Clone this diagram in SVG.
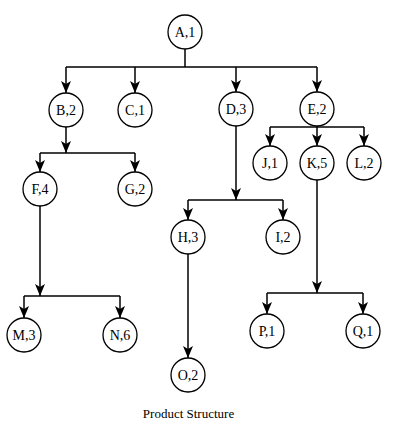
<svg xmlns="http://www.w3.org/2000/svg" width="400" height="429" viewBox="0 0 400 429">
<style>
.n circle{fill:#fff;stroke:#000;stroke-width:1.3}
.n text{font-family:"Liberation Serif","Times New Roman",serif;font-size:14px;fill:#000;text-anchor:middle}
.cap{font-family:"Liberation Serif","Times New Roman",serif;font-size:13px;fill:#000;text-anchor:middle}
#edges path{fill:none;stroke:#000;stroke-width:1.5}
</style>
<defs>
<marker id="arr" viewBox="0 0 12 10" refX="12" refY="5" markerWidth="12" markerHeight="10" orient="auto" markerUnits="userSpaceOnUse">
<path d="M0,0 L12,5 L0,10 L3,5 z" fill="#000"/>
</marker>
</defs>
<rect width="400" height="429" fill="#fff"/>
<g id="edges">
<path d="M185,49 V67 M66,67 H317"/>
<path d="M66,67 V93" marker-end="url(#arr)"/>
<path d="M135,67 V93" marker-end="url(#arr)"/>
<path d="M236,67 V92" marker-end="url(#arr)"/>
<path d="M317,67 V92" marker-end="url(#arr)"/>
<path d="M66,127 V153" marker-end="url(#arr)"/>
<path d="M40,153 H135"/>
<path d="M40,153 V172" marker-end="url(#arr)"/>
<path d="M135,153 V172" marker-end="url(#arr)"/>
<path d="M270,127 H364"/>
<path d="M270,127 V146" marker-end="url(#arr)"/>
<path d="M317,126 V146" marker-end="url(#arr)"/>
<path d="M364,127 V146" marker-end="url(#arr)"/>
<path d="M236,126 V200" marker-end="url(#arr)"/>
<path d="M188,200 H283"/>
<path d="M188,200 V220" marker-end="url(#arr)"/>
<path d="M283,200 V220" marker-end="url(#arr)"/>
<path d="M40,206 V296" marker-end="url(#arr)"/>
<path d="M24,296 H120"/>
<path d="M24,296 V318" marker-end="url(#arr)"/>
<path d="M120,296 V318" marker-end="url(#arr)"/>
<path d="M317,180 V293" marker-end="url(#arr)"/>
<path d="M267,293 H363"/>
<path d="M267,293 V314" marker-end="url(#arr)"/>
<path d="M363,293 V314" marker-end="url(#arr)"/>
<path d="M188,254 V358" marker-end="url(#arr)"/>
</g>
<g id="A" class="n"><circle cx="185" cy="32" r="17"/><text x="185" y="37">A,1</text></g>
<g id="B" class="n"><circle cx="66" cy="110" r="17"/><text x="66" y="115">B,2</text></g>
<g id="C" class="n"><circle cx="135" cy="110" r="17"/><text x="135" y="115">C,1</text></g>
<g id="D" class="n"><circle cx="236" cy="109" r="17"/><text x="236" y="114">D,3</text></g>
<g id="E" class="n"><circle cx="317" cy="109" r="17"/><text x="317" y="114">E,2</text></g>
<g id="F" class="n"><circle cx="40" cy="189" r="17"/><text x="40" y="194">F,4</text></g>
<g id="G" class="n"><circle cx="135" cy="189" r="17"/><text x="135" y="194">G,2</text></g>
<g id="J" class="n"><circle cx="270" cy="163" r="17"/><text x="270" y="168">J,1</text></g>
<g id="K" class="n"><circle cx="317" cy="163" r="17"/><text x="317" y="168">K,5</text></g>
<g id="L" class="n"><circle cx="364" cy="163" r="17"/><text x="364" y="168">L,2</text></g>
<g id="H" class="n"><circle cx="188" cy="237" r="17"/><text x="188" y="242">H,3</text></g>
<g id="I" class="n"><circle cx="283" cy="237" r="17"/><text x="283" y="242">I,2</text></g>
<g id="M" class="n"><circle cx="24" cy="335" r="17"/><text x="24" y="340">M,3</text></g>
<g id="N" class="n"><circle cx="120" cy="335" r="17"/><text x="120" y="340">N,6</text></g>
<g id="O" class="n"><circle cx="188" cy="375" r="17"/><text x="188" y="380">O,2</text></g>
<g id="P" class="n"><circle cx="267" cy="331" r="17"/><text x="267" y="336">P,1</text></g>
<g id="Q" class="n"><circle cx="363" cy="331" r="17"/><text x="363" y="336">Q,1</text></g>
<text class="cap" x="188.5" y="418">Product Structure</text>
</svg>
